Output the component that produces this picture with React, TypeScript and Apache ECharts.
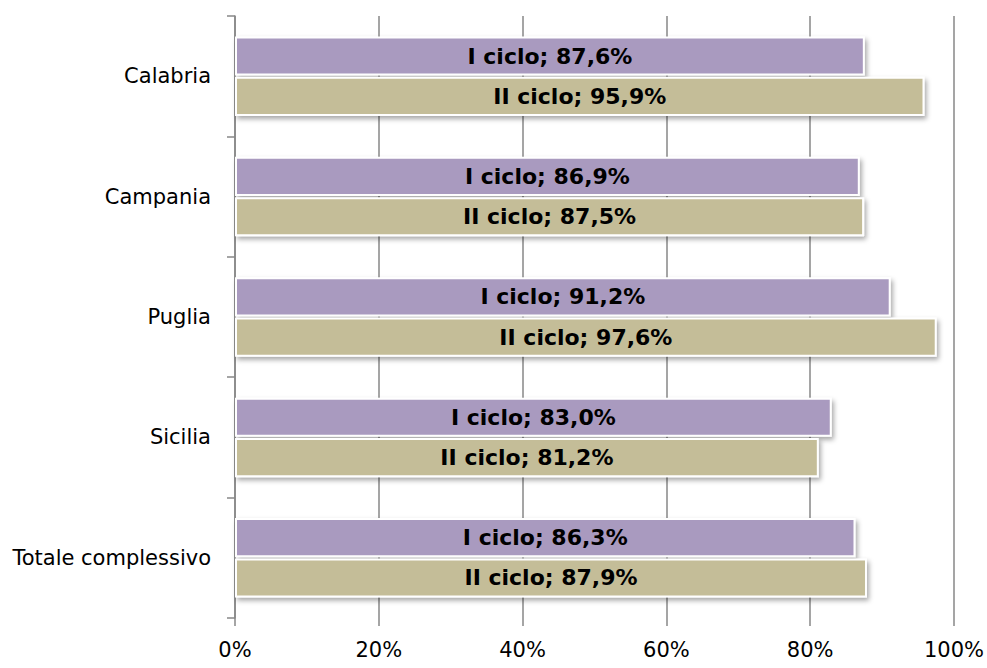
import React, { useEffect, useRef } from "react";
import * as echarts from "echarts";

const categories = ["Calabria", "Campania", "Puglia", "Sicilia", "Totale complessivo"];
const seriesNames = ["I ciclo", "II ciclo"];
const primoCiclo = [87.6, 86.9, 91.2, 83.0, 86.3];
const secondoCiclo = [95.9, 87.5, 97.6, 81.2, 87.9];
const xTicks = [0, 20, 40, 60, 80, 100];

const colors = ["#A99ABF", "#C4BD98"];
const FONT = "DejaVu Sans, Verdana, sans-serif";

export default function App() {
  const ref = useRef<HTMLDivElement>(null);
  useEffect(() => {
    if (!ref.current) return;
    const chart = echarts.init(ref.current, undefined, { renderer: "svg" });
    const mk = (name: string, data: number[], color: string) => ({
      name,
      type: "bar",
      data,
      barGap: "3%",
      barCategoryGap: "34%",
      itemStyle: {
        color,
        borderColor: "#FFFFFF",
        borderWidth: 2,
        shadowBlur: 5,
        shadowOffsetX: 2,
        shadowOffsetY: 3,
        shadowColor: "rgba(0,0,0,0.35)",
      },
      label: {
        show: true,
        position: "inside",
        fontFamily: FONT,
        fontWeight: "bold",
        fontSize: 22,
        color: "#000",
        formatter: (p: any) => `${p.seriesName}; ${Number(p.value).toFixed(1).replace(".", ",")}%`,
      },
    });
    chart.setOption({
      animation: false,
      grid: { left: 235, right: 33, top: 16, bottom: 50, containLabel: false },
      xAxis: {
        type: "value",
        min: xTicks[0],
        max: xTicks[xTicks.length - 1],
        interval: 20,
        axisLine: { show: false },
        axisTick: { show: true, length: 8, lineStyle: { color: "#878787", width: 1.5 } },
        splitLine: { show: true, lineStyle: { color: "#878787", width: 1.5 } },
        axisLabel: {
          margin: 21,
          fontFamily: FONT,
          fontSize: 21,
          color: "#000",
          formatter: (v: number) => `${v}%`,
        },
      },
      yAxis: {
        type: "category",
        inverse: true,
        data: categories,
        axisLine: { show: true, lineStyle: { color: "#878787", width: 1.5 } },
        axisTick: { show: true, length: 8, inside: false, lineStyle: { color: "#878787", width: 1.5 } },
        axisLabel: { margin: 24, fontFamily: FONT, fontSize: 21, color: "#000" },
      },
      series: [
        mk(seriesNames[0], primoCiclo, colors[0]),
        mk(seriesNames[1], secondoCiclo, colors[1]),
      ],
    });
    return () => chart.dispose();
  }, []);
  return <div ref={ref} style={{ width: 987, height: 668, position: "absolute", left: 0, top: 0 }} />;
}
